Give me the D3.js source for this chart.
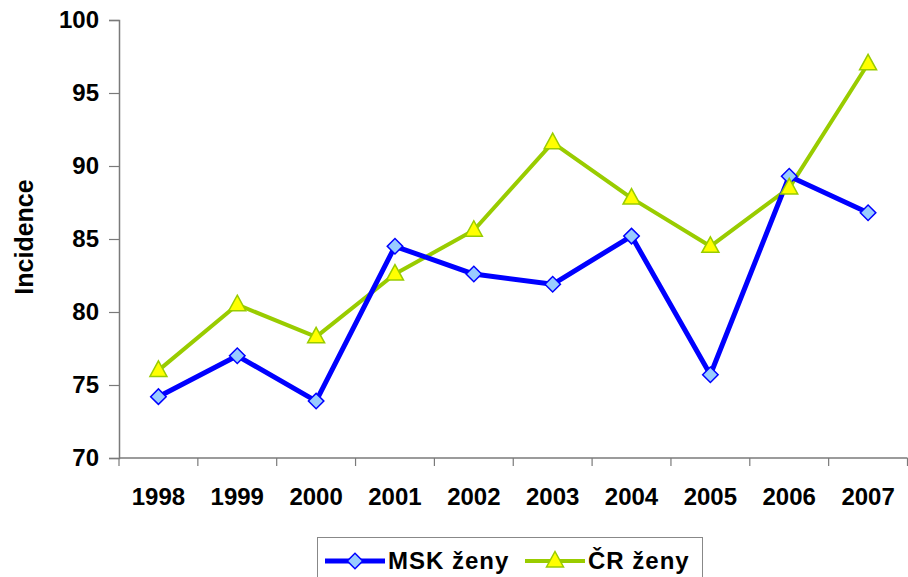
<!DOCTYPE html>
<html>
<head>
<meta charset="utf-8">
<script src="https://cdn.jsdelivr.net/npm/d3@7"></script>
<style>
  html, body { margin: 0; padding: 0; background: #fff; }
  svg { display: block; font-family: Arial, "Liberation Sans", sans-serif; }
</style>
</head>
<body>
<svg id="chart" width="908" height="577"></svg>
<script>
// Incidence by year
const years = ["1998","1999","2000","2001","2002","2003","2004","2005","2006","2007"];
const mskZeny = [74.2, 77.0, 73.9, 84.5, 82.6, 81.9, 85.2, 75.7, 89.3, 86.8];
const crZeny  = [76.0, 80.5, 78.3, 82.6, 85.6, 91.6, 87.8, 84.5, 88.5, 97.0];
const yTicks = [70, 75, 80, 85, 90, 95, 100];
const seriesNames = ["MSK ženy", "ČR ženy"];

(function () {
const svg = d3.select("#chart");
const plotLeft = 119, plotRight = 907.5, plotTop = 20, plotBottom = 458;

const x = d3.scaleBand().domain(years).range([plotLeft, plotRight]);
const y = d3.scaleLinear().domain([70, 100]).range([plotBottom, plotTop]);

const axisColor = "#7a7a7a";

// y axis
const yAxis = svg.append("g")
  .attr("transform", `translate(${plotLeft},0)`)
  .call(d3.axisLeft(y).tickValues(yTicks).tickSize(10).tickPadding(10).tickFormat(d3.format("d")));
yAxis.select(".domain").attr("stroke", axisColor).attr("stroke-width", 1.5);
yAxis.selectAll(".tick line").attr("stroke", axisColor).attr("stroke-width", 1.2);
yAxis.selectAll(".tick text")
  .attr("font-size", 24).attr("font-weight", "bold").attr("fill", "#000")
  .attr("font-family", "Arial, 'Liberation Sans', sans-serif");

// x axis with ticks between categories
const xAxis = svg.append("g")
  .attr("transform", `translate(0,${plotBottom})`);
xAxis.append("line")
  .attr("x1", plotLeft).attr("x2", plotRight).attr("y1", 0).attr("y2", 0)
  .attr("stroke", axisColor).attr("stroke-width", 1.5);
const bounds = years.map(d => x(d)).concat([x(years[years.length - 1]) + x.bandwidth()]);
xAxis.selectAll("line.tk").data(bounds).join("line")
  .attr("class", "tk")
  .attr("x1", d => d).attr("x2", d => d).attr("y1", 0).attr("y2", 8)
  .attr("stroke", axisColor).attr("stroke-width", 1.2);
xAxis.selectAll("text").data(years).join("text")
  .attr("x", d => x(d) + x.bandwidth() / 2)
  .attr("y", 47)
  .attr("text-anchor", "middle")
  .attr("font-size", 24).attr("font-weight", "bold").attr("fill", "#000")
  .text(d => d);

// y axis title
svg.append("text")
  .attr("transform", `translate(33,237) rotate(-90)`)
  .attr("text-anchor", "middle")
  .attr("font-size", 25).attr("font-weight", "bold")
  .text("Incidence");

const cx = d => x(d) + x.bandwidth() / 2;
const line = d3.line().x((d, i) => cx(years[i])).y(d => y(d));

const blue = "#0000ff", blueFill = "#99ccff";
const green = "#99cc00", yellow = "#ffff00";

const diamond = d3.symbol().type(d3.symbolSquare).size(120)();
const triangle = "M0,-9.5L8.5,6L-8.5,6Z";

// ČR line
svg.append("path").datum(crZeny)
  .attr("d", line).attr("fill", "none")
  .attr("stroke", green).attr("stroke-width", 4).attr("stroke-linejoin", "round");
// MSK line
svg.append("path").datum(mskZeny)
  .attr("d", line).attr("fill", "none")
  .attr("stroke", blue).attr("stroke-width", 5).attr("stroke-linejoin", "round");

svg.append("g").selectAll("path").data(mskZeny).join("path")
  .attr("transform", (d, i) => `translate(${cx(years[i])},${y(d)}) rotate(45)`)
  .attr("d", diamond)
  .attr("fill", blueFill).attr("stroke", blue).attr("stroke-width", 1.5);

svg.append("g").selectAll("path").data(crZeny).join("path")
  .attr("transform", (d, i) => `translate(${cx(years[i])},${y(d)})`)
  .attr("d", triangle)
  .attr("fill", yellow).attr("stroke", green).attr("stroke-width", 1.5);

// legend
const lg = svg.append("g");
lg.append("rect")
  .attr("x", 317.5).attr("y", 537.5).attr("width", 385).attr("height", 50)
  .attr("fill", "#fff").attr("stroke", "#888").attr("stroke-width", 1);

const items = [
  { name: seriesNames[0], x0: 325, color: blue, width: 5, marker: "diamond" },
  { name: seriesNames[1], x0: 525, color: green, width: 4, marker: "triangle" }
];
items.forEach(it => {
  const ly = 561;
  lg.append("line").attr("x1", it.x0).attr("x2", it.x0 + 60).attr("y1", ly).attr("y2", ly)
    .attr("stroke", it.color).attr("stroke-width", it.width);
  if (it.marker === "diamond") {
    lg.append("path").attr("transform", `translate(${it.x0 + 30},${ly}) rotate(45)`)
      .attr("d", diamond).attr("fill", blueFill).attr("stroke", blue).attr("stroke-width", 1.5);
  } else {
    lg.append("path").attr("transform", `translate(${it.x0 + 30},${ly})`)
      .attr("d", triangle).attr("fill", yellow).attr("stroke", green).attr("stroke-width", 1.5);
  }
  lg.append("text").attr("x", it.x0 + 63).attr("y", ly + 8)
    .attr("font-size", 24).attr("font-weight", "bold").attr("letter-spacing", 1)
    .text(it.name);
});
})();
</script>
</body>
</html>
